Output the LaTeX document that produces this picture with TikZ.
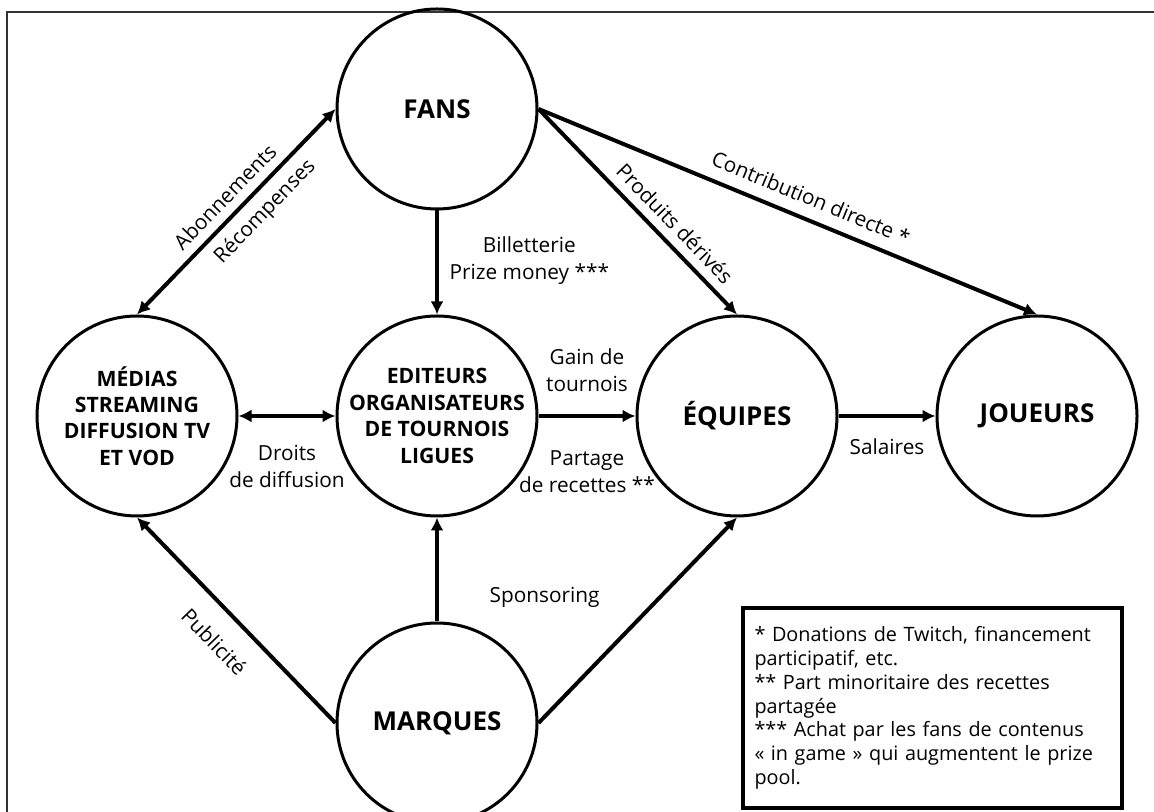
\documentclass[tikz,border=0pt]{standalone}
\usepackage{fontspec}
\setmainfont{Open Sans}
\usetikzlibrary{positioning,arrows.meta}

\begin{document}
\begin{tikzpicture}[%
	node distance=52pt and 48.5pt,
	acteur/.style={circle, draw, line width=1.5pt, minimum size=100pt, inner sep=-6pt,
		align=center, font=\bfseries\fontsize{10.6}{13.2}\selectfont},
	grand/.style={font=\bfseries\fontsize{13}{16}\selectfont},
	fleche/.style={line width=2pt, >={Latex[length=6.5pt,width=6.5pt]}},
	etiq/.style={font=\fontsize{10.4}{13.5}\selectfont, align=center},
	legende/.style={draw, line width=2pt, align=left, text width=178pt, inner xsep=5.75pt,
		minimum height=100pt, font=\fontsize{9.9}{11.9}\selectfont}]
	\useasboundingbox (0,0) rectangle (577pt,406pt);
	\draw[line width=1pt, black!80] (3.5pt,0) -- (3.5pt,400pt) -- (577pt,400pt);

	\node[acteur] (editeurs) at (218.5pt,198pt) {EDITEURS\\ORGANISATEURS\\DE TOURNOIS\\LIGUES};
	\node[acteur, grand, above=of editeurs] (fans) {FANS};
	\node[acteur, left=of editeurs] (medias) {MÉDIAS\\STREAMING\\DIFFUSION TV\\ET VOD};
	\node[acteur, grand, right=of editeurs] (equipes) {ÉQUIPES};
	\node[acteur, grand, right=of equipes] (joueurs) {JOUEURS};
	\node[acteur, grand, below=of editeurs] (marques) {MARQUES};

	\draw[fleche, <->] (medias.north) -- node[etiq, sloped, above=1pt, pos=0.51] {Abonnements}
		node[etiq, sloped, below=1pt, pos=0.57] {Récompenses} (fans.west);
	\draw[fleche, ->] (fans.south) -- node[etiq, right=2pt, pos=0.48] {Billetterie\\Prize money ***} (editeurs.north);
	\draw[fleche, ->] (fans.east) -- node[etiq, sloped, above=1pt, pos=0.62] {Produits dérivés} (equipes.north);
	\draw[fleche, ->] (fans.east) -- node[etiq, sloped, above=2.5pt, pos=0.53] {Contribution directe *} (joueurs.north);
	\draw[fleche, <->] (medias.east) -- node[etiq, below=10.5pt] {Droits\\de diffusion} (editeurs.west);
	\draw[fleche, ->] (editeurs.east) -- node[etiq, above=8pt] {Gain de\\tournois}
		node[etiq, below=13pt] {Partage\\de recettes **} (equipes.west);
	\draw[fleche, ->] (equipes.east) -- node[etiq, below=7pt] {Salaires} (joueurs.west);
	\draw[fleche, <-] (medias.south) -- node[etiq, sloped, below=7pt, pos=0.5] {Publicité} (marques.west);
	\draw[fleche, ->] (marques.north) -- node[etiq, right=22pt, pos=0.23] {Sponsoring} (editeurs.south);
	\draw[fleche, ->] (marques.east) -- (equipes.south);

	\node[legende, anchor=south west] (notes) at (370.5pt,1pt) {* Donations de Twitch, financement\\participatif, etc.\\{}** Part minoritaire des recettes\\partagée\\{}*** Achat par les fans de contenus\\« in game » qui augmentent le prize\\pool.};
\end{tikzpicture}
\end{document}
